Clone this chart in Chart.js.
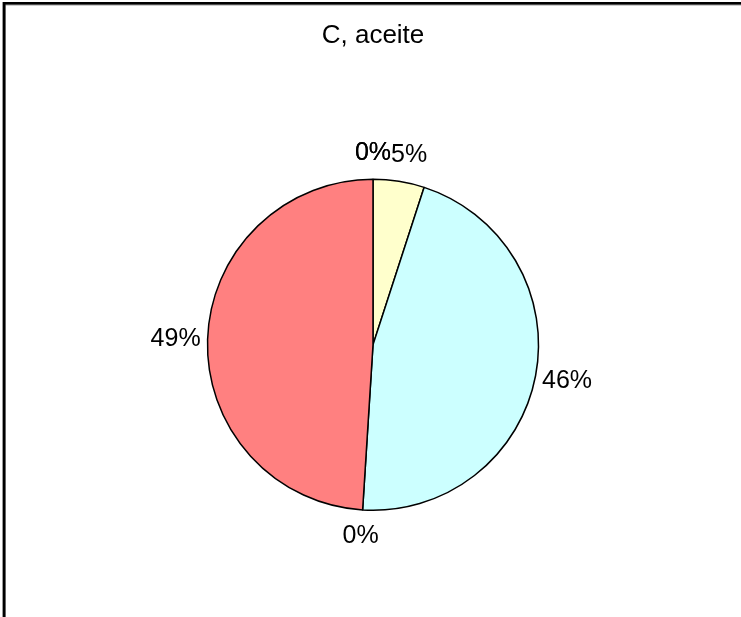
<!DOCTYPE html>
<html>
<head>
<meta charset="utf-8">
<script src="https://cdn.jsdelivr.net/npm/chart.js@4/dist/chart.umd.min.js"></script>
<style>
  html, body { margin: 0; padding: 0; background: #fff; overflow: hidden; }
  canvas { display: block; }
</style>
</head>
<body>
<canvas id="grafico" width="741" height="617"></canvas>
<script>
// Datos del gráfico
const categorias = ["A", "B", "C", "D", "E", "F"];
const valores = [0, 5, 46, 0, 49, 0];
const colores = ["#FFFFFF", "#FFFFCC", "#CCFFFF", "#FFFFFF", "#FF8080", "#FFFFFF"];
const titulo = "C, aceite";

const fuente = "'Liberation Sans', Arial, sans-serif";

// Marco del área del gráfico (solo se ven los bordes superior e izquierdo)
const marco = {
    id: "marco",
    beforeDraw(chart) {
        const ctx = chart.ctx;
        ctx.save();
        ctx.fillStyle = "#fff";
        ctx.fillRect(0, 0, chart.width, chart.height);
        ctx.fillStyle = "#9a9a9a";
        ctx.fillRect(2, 2, chart.width, 3.5);
        ctx.fillRect(2, 2, 3.5, chart.height);
        ctx.fillStyle = "#000";
        ctx.fillRect(3, 2, chart.width, 2.5);
        ctx.fillRect(3, 2, 2.5, chart.height);
        ctx.restore();
    }
};

// Etiquetas de porcentaje fuera de cada sector, sobre una elipse algo
// más ancha que el círculo; si una etiqueta pisa a otra se desplaza
const etiquetas = {
    id: "etiquetas",
    afterDatasetsDraw(chart) {
        const ctx = chart.ctx;
        const meta = chart.getDatasetMeta(0);
        const total = valores.reduce((a, b) => a + b, 0);
        const alto = 20;
        const cajas = [];
        ctx.save();
        ctx.font = "25px " + fuente;
        ctx.fillStyle = "#000";
        ctx.textAlign = "center";
        ctx.textBaseline = "middle";
        meta.data.forEach((arc, i) => {
            const medio = (arc.startAngle + arc.endAngle) / 2;
            const dx = Math.cos(medio), dy = Math.sin(medio);
            let x = arc.x + dx * (arc.outerRadius + 32);
            const y = arc.y + dy * (arc.outerRadius + 26.5);
            const texto = Math.round(valores[i] / total * 100) + "%";
            const ancho = ctx.measureText(texto).width;
            cajas.forEach(c => {
                const mismaPos = Math.abs(c.x - x) < 1 && Math.abs(c.y - y) < 1;
                const solapa = Math.abs(c.x - x) < (c.ancho + ancho) / 2 &&
                               Math.abs(c.y - y) < alto;
                if (solapa && !mismaPos) {
                    const lado = dx >= 0 ? 1 : -1;
                    x = c.x + lado * (c.ancho + ancho) / 2;
                }
            });
            cajas.push({ x, y, ancho });
            ctx.fillText(texto, x, y);
        });
        ctx.restore();
    }
};

new Chart(document.getElementById("grafico"), {
    type: "pie",
    data: {
        labels: categorias,
        datasets: [{
            data: valores,
            backgroundColor: colores,
            borderColor: "#000",
            borderWidth: 1.5
        }]
    },
    options: {
        responsive: false,
        animation: false,
        layout: {
            padding: { left: 206, right: 201, top: 0, bottom: 106 }
        },
        plugins: {
            legend: { display: false },
            tooltip: { enabled: false },
            title: {
                display: true,
                text: titulo,
                color: "#000",
                font: { family: fuente, size: 26, weight: "normal" },
                padding: { top: 20.4, bottom: 126.9 }
            }
        }
    },
    plugins: [marco, etiquetas]
});
</script>
</body>
</html>
